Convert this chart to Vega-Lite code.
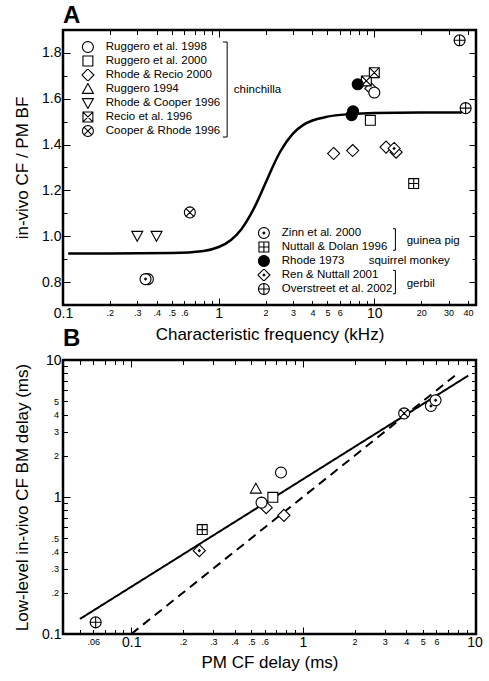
{
  "$schema": "https://vega.github.io/schema/vega-lite/v6.json",
  "padding": {"left": 12, "top": 2, "right": 5, "bottom": 0},
  "spacing": -19,
  "config": {
    "font": "Liberation Sans",
    "view": {"stroke": "black", "strokeWidth": 2.5},
    "axis": {"domain": false, "grid": false, "tickColor": "black", "tickWidth": 1, "labelColor": "black", "titleColor": "black", "titleFontWeight": "normal", "titleFontSize": 17, "labelFlush": false, "labelOverlap": false, "labelBound": false},
    "legend": {"labelFontSize": 11.5, "labelColor": "black", "symbolSize": 121, "symbolStrokeWidth": 1.1, "symbolStrokeColor": "black", "symbolFillColor": "white", "rowPadding": 2, "clipHeight": 12, "padding": 0},
    "title": {"fontSize": 24, "fontWeight": "bold", "anchor": "start", "frame": "group", "color": "black", "offset": 2}
  },
  "datasets": {
    "points": [
      {"panel": "A", "species": "chinchilla", "study": "Rhode & Recio 2000", "x": 9.5, "y": 1.645},
      {"panel": "A", "species": "chinchilla", "study": "Ruggero et al. 1998", "x": 10.0, "y": 1.627},
      {"panel": "A", "species": "chinchilla", "study": "Rhode & Recio 2000", "x": 5.48, "y": 1.361},
      {"panel": "A", "species": "chinchilla", "study": "Rhode & Recio 2000", "x": 7.26, "y": 1.374},
      {"panel": "A", "species": "chinchilla", "study": "Rhode & Recio 2000", "x": 11.9, "y": 1.389},
      {"panel": "A", "species": "chinchilla", "study": "Rhode & Recio 2000", "x": 13.8, "y": 1.367},
      {"panel": "A", "species": "chinchilla", "study": "Recio et al. 1996", "x": 8.89, "y": 1.678},
      {"panel": "A", "species": "chinchilla", "study": "Recio et al. 1996", "x": 10.0, "y": 1.714},
      {"panel": "A", "species": "chinchilla", "study": "Ruggero et al. 2000", "x": 9.43, "y": 1.506},
      {"panel": "A", "species": "chinchilla", "study": "Rhode & Cooper 1996", "x": 0.30, "y": 1.002},
      {"panel": "A", "species": "chinchilla", "study": "Rhode & Cooper 1996", "x": 0.399, "y": 1.002},
      {"panel": "A", "species": "chinchilla", "study": "Cooper & Rhode 1996", "x": 0.653, "y": 1.104},
      {"panel": "A", "species": "guinea pig", "study": "Zinn et al. 2000", "x": 0.351, "y": 0.813},
      {"panel": "A", "species": "guinea pig", "study": "Zinn et al. 2000", "x": 0.339, "y": 0.813},
      {"panel": "A", "species": "guinea pig", "study": "Nuttall & Dolan 1996", "x": 17.9, "y": 1.230},
      {"panel": "A", "species": "squirrel monkey", "study": "Rhode 1973", "x": 7.82, "y": 1.663},
      {"panel": "A", "species": "squirrel monkey", "study": "Rhode 1973", "x": 7.3, "y": 1.545},
      {"panel": "A", "species": "squirrel monkey", "study": "Rhode 1973", "x": 7.15, "y": 1.528},
      {"panel": "A", "species": "gerbil", "study": "Ren & Nuttall 2001", "x": 13.4, "y": 1.383},
      {"panel": "A", "species": "gerbil", "study": "Overstreet et al. 2002", "x": 35.3, "y": 1.855},
      {"panel": "A", "species": "gerbil", "study": "Overstreet et al. 2002", "x": 38.6, "y": 1.559},
      {"panel": "B", "species": "gerbil", "study": "Overstreet et al. 2002", "x": 0.062, "y": 0.1217},
      {"panel": "B", "species": "guinea pig", "study": "Nuttall & Dolan 1996", "x": 0.259, "y": 0.578},
      {"panel": "B", "species": "gerbil", "study": "Ren & Nuttall 2001", "x": 0.249, "y": 0.406},
      {"panel": "B", "species": "chinchilla", "study": "Ruggero 1994", "x": 0.532, "y": 1.15},
      {"panel": "B", "species": "chinchilla", "study": "Rhode & Recio 2000", "x": 0.611, "y": 0.836},
      {"panel": "B", "species": "chinchilla", "study": "Ruggero et al. 1998", "x": 0.574, "y": 0.91},
      {"panel": "B", "species": "chinchilla", "study": "Ruggero et al. 1998", "x": 0.745, "y": 1.51},
      {"panel": "B", "species": "chinchilla", "study": "Rhode & Recio 2000", "x": 0.775, "y": 0.735},
      {"panel": "B", "species": "chinchilla", "study": "Ruggero et al. 2000", "x": 0.668, "y": 0.995},
      {"panel": "B", "species": "chinchilla", "study": "Cooper & Rhode 1996", "x": 3.89, "y": 4.08},
      {"panel": "B", "species": "guinea pig", "study": "Zinn et al. 2000", "x": 5.57, "y": 4.62},
      {"panel": "B", "species": "guinea pig", "study": "Zinn et al. 2000", "x": 5.93, "y": 5.08}
    ],
    "curveA": [
      {"x": 0.108, "y": 0.925},
      {"x": 0.2, "y": 0.925},
      {"x": 0.5, "y": 0.927},
      {"x": 0.8, "y": 0.936},
      {"x": 1.0, "y": 0.953},
      {"x": 1.2, "y": 0.984},
      {"x": 1.4, "y": 1.031},
      {"x": 1.6, "y": 1.093},
      {"x": 1.8, "y": 1.162},
      {"x": 2.0, "y": 1.232},
      {"x": 2.2, "y": 1.296},
      {"x": 2.5, "y": 1.372},
      {"x": 3.0, "y": 1.448},
      {"x": 3.5, "y": 1.486},
      {"x": 4.0, "y": 1.505},
      {"x": 5.0, "y": 1.522},
      {"x": 7.0, "y": 1.533},
      {"x": 10.0, "y": 1.538},
      {"x": 20.0, "y": 1.540},
      {"x": 36.5, "y": 1.540}
    ],
    "linesB": [
      {"line": "fit", "x": 0.0502, "y": 0.1287},
      {"line": "fit", "x": 9.19, "y": 7.69},
      {"line": "identity", "x": 0.1, "y": 0.1},
      {"line": "identity", "x": 8.1, "y": 8.1}
    ],
    "speciesA": [
      {"label": "chinchilla", "x": 1.252, "y": 1.637},
      {"label": "guinea pig", "x": 16.14, "y": 0.978},
      {"label": "squirrel monkey", "x": 9.2, "y": 0.891},
      {"label": "gerbil", "x": 16.14, "y": 0.793}
    ],
    "bracketsA": [
      {"bracket": "chinchilla", "order": 1, "x": 1.064, "y": 1.8476},
      {"bracket": "chinchilla", "order": 2, "x": 1.134, "y": 1.8476},
      {"bracket": "chinchilla", "order": 3, "x": 1.134, "y": 1.433},
      {"bracket": "chinchilla", "order": 4, "x": 1.064, "y": 1.433},
      {"bracket": "guinea pig", "order": 1, "x": 13.18, "y": 1.033},
      {"bracket": "guinea pig", "order": 2, "x": 13.66, "y": 1.033},
      {"bracket": "guinea pig", "order": 3, "x": 13.66, "y": 0.939},
      {"bracket": "guinea pig", "order": 4, "x": 13.18, "y": 0.939},
      {"bracket": "gerbil", "order": 1, "x": 13.18, "y": 0.851},
      {"bracket": "gerbil", "order": 2, "x": 13.66, "y": 0.851},
      {"bracket": "gerbil", "order": 3, "x": 13.66, "y": 0.749},
      {"bracket": "gerbil", "order": 4, "x": 13.18, "y": 0.749}
    ]
  },
  "resolve": {"scale": {"shape": "independent", "fill": "independent", "strokeDash": "independent"}, "legend": {"shape": "independent", "fill": "independent"}},
  "vconcat": [
    {
      "title": {"text": "A"},
      "width": 413,
      "height": 275,
      "resolve": {"scale": {"shape": "independent", "fill": "independent"}, "axis": {"x": "independent", "y": "independent"}, "legend": {"shape": "independent", "fill": "independent"}},
      "layer": [
        {
          "data": {"name": "curveA"},
          "mark": {"type": "line", "color": "black", "strokeWidth": 2.5, "interpolate": "monotone"},
          "encoding": {
            "x": {"field": "x", "type": "quantitative", "scale": {"type": "log", "domain": [0.1, 45], "nice": false},
              "axis": {"orient": "bottom", "title": "Characteristic frequency (kHz)", "titlePadding": 6,
                "values": [0.1, 0.2, 0.3, 0.4, 0.5, 0.6, 0.7, 0.8, 0.9, 1, 2, 3, 4, 5, 6, 7, 8, 9, 10, 20, 30, 40],
                "labelExpr": "datum.value == 0.1 ? '0.1' : datum.value < 0.65 ? replace(format(datum.value, '.1f'), '0.', '.') : datum.value < 1 ? '' : (datum.value < 6.5 || datum.value == 10 || datum.value > 15) ? format(datum.value, 'd') : ''",
                "labelFontSize": {"condition": {"test": "datum.value == 0.1 || datum.value == 1 || datum.value == 10", "value": 14}, "value": 9},
                "tickSize": {"condition": {"test": "datum.value == 0.1 || datum.value == 1 || datum.value == 10", "value": -7}, "value": -4.5},
                "labelPadding": 8}},
            "y": {"field": "y", "type": "quantitative", "scale": {"domain": [0.7, 1.9], "nice": false, "zero": false},
              "axis": {"orient": "left", "title": "in-vivo CF / PM BF", "titlePadding": 10,
                "values": [0.8, 0.9, 1.0, 1.1, 1.2, 1.3, 1.4, 1.5, 1.6, 1.7, 1.8],
                "labelExpr": "indexof(['0.8','1.0','1.2','1.4','1.6','1.8'], format(datum.value, '.1f')) >= 0 ? format(datum.value, '.1f') : ''",
                "labelFontSize": 14,
                "tickSize": {"condition": {"test": "indexof(['0.8','1.0','1.2','1.4','1.6','1.8'], format(datum.value, '.1f')) >= 0", "value": -7}, "value": -4},
                "labelPadding": 9}}
          }
        },
        {
          "data": {"name": "curveA"},
          "mark": {"type": "line", "opacity": 0},
          "encoding": {
            "x": {"field": "x", "type": "quantitative", "scale": {"type": "log", "domain": [0.1, 45], "nice": false},
              "axis": {"orient": "top", "title": null, "labels": false,
                "values": [0.1, 0.2, 0.3, 0.4, 0.5, 0.6, 0.7, 0.8, 0.9, 1, 2, 3, 4, 5, 6, 7, 8, 9, 10, 20, 30, 40],
                "tickSize": {"condition": {"test": "datum.value == 0.1 || datum.value == 1 || datum.value == 10", "value": -7}, "value": -4.5}}},
            "y": {"field": "y", "type": "quantitative", "scale": {"domain": [0.7, 1.9], "nice": false, "zero": false},
              "axis": {"orient": "right", "title": null, "labels": false,
                "values": [0.8, 0.9, 1.0, 1.1, 1.2, 1.3, 1.4, 1.5, 1.6, 1.7, 1.8],
                "tickSize": {"condition": {"test": "indexof(['0.8','1.0','1.2','1.4','1.6','1.8'], format(datum.value, '.1f')) >= 0", "value": -7}, "value": -4}}}
          }
        },
        {
          "data": {"name": "bracketsA"},
          "mark": {"type": "line", "color": "black", "strokeWidth": 1},
          "encoding": {
            "x": {"field": "x", "type": "quantitative", "scale": {"type": "log", "domain": [0.1, 45], "nice": false}, "axis": null},
            "y": {"field": "y", "type": "quantitative", "scale": {"domain": [0.7, 1.9], "nice": false, "zero": false}, "axis": null},
            "detail": {"field": "bracket"},
            "order": {"field": "order", "type": "quantitative"}
          }
        },
        {
          "data": {"name": "speciesA"},
          "mark": {"type": "text", "align": "left", "baseline": "middle", "fontSize": 11.5, "color": "black"},
          "encoding": {
            "x": {"field": "x", "type": "quantitative", "scale": {"type": "log", "domain": [0.1, 45], "nice": false}, "axis": null},
            "y": {"field": "y", "type": "quantitative", "scale": {"domain": [0.7, 1.9], "nice": false, "zero": false}, "axis": null},
            "text": {"field": "label"}
          }
        },
        {
          "data": {"name": "points"},
          "transform": [{"filter": "datum.panel === 'A' && datum.species === 'chinchilla'"}],
          "mark": {"type": "point", "filled": false, "color": "black", "strokeWidth": 1.1, "size": 121, "opacity": 1},
          "encoding": {
            "x": {"field": "x", "type": "quantitative", "scale": {"type": "log", "domain": [0.1, 45], "nice": false}, "axis": null},
            "y": {"field": "y", "type": "quantitative", "scale": {"domain": [0.7, 1.9], "nice": false, "zero": false}, "axis": null},
            "shape": {"field": "study", "type": "nominal",
              "scale": {"domain": ["Ruggero et al. 1998", "Ruggero et al. 2000", "Rhode & Recio 2000", "Ruggero 1994", "Rhode & Cooper 1996", "Recio et al. 1996", "Cooper & Rhode 1996"],
                "range": [
                  "M1,0L0.924,0.383L0.707,0.707L0.383,0.924L0,1L-0.383,0.924L-0.707,0.707L-0.924,0.383L-1,0L-0.924,-0.383L-0.707,-0.707L-0.383,-0.924L0,-1L0.383,-0.924L0.707,-0.707L0.924,-0.383Z",
                  "M-0.9,-0.9H0.9V0.9H-0.9Z",
                  "M0,-1.1L1.1,0L0,1.1L-1.1,0Z",
                  "M0,-1L1,0.8L-1,0.8Z",
                  "M0,1L1,-0.8L-1,-0.8Z",
                  "M-0.9,-0.9H0.9V0.9H-0.9ZM-0.9,-0.9L0.9,0.9M-0.9,0.9L0.9,-0.9",
                  "M1,0L0.924,0.383L0.707,0.707L0.383,0.924L0,1L-0.383,0.924L-0.707,0.707L-0.924,0.383L-1,0L-0.924,-0.383L-0.707,-0.707L-0.383,-0.924L0,-1L0.383,-0.924L0.707,-0.707L0.924,-0.383ZM-0.707,-0.707L0.707,0.707M-0.707,0.707L0.707,-0.707"
                ]},
              "legend": {"orient": "none", "legendX": 18.4, "legendY": 11, "title": null, "labelOffset": 11.4, "symbolStrokeColor": "black", "symbolStrokeWidth": 1.1}},
            "fill": {"field": "study", "type": "nominal",
              "scale": {"domain": ["Ruggero et al. 1998", "Ruggero et al. 2000", "Rhode & Recio 2000", "Ruggero 1994", "Rhode & Cooper 1996", "Recio et al. 1996", "Cooper & Rhode 1996"],
                "range": ["white", "white", "white", "white", "white", "white", "white"]},
              "legend": {"orient": "none", "legendX": 18.4, "legendY": 11, "title": null, "labelOffset": 11.4, "symbolStrokeColor": "black", "symbolStrokeWidth": 1.1}}
          }
        },
        {
          "data": {"name": "points"},
          "transform": [{"filter": "datum.panel === 'A' && datum.species !== 'chinchilla'"}],
          "mark": {"type": "point", "filled": false, "color": "black", "strokeWidth": 1.1, "size": 121, "opacity": 1},
          "encoding": {
            "x": {"field": "x", "type": "quantitative", "scale": {"type": "log", "domain": [0.1, 45], "nice": false}, "axis": null},
            "y": {"field": "y", "type": "quantitative", "scale": {"domain": [0.7, 1.9], "nice": false, "zero": false}, "axis": null},
            "shape": {"field": "study", "type": "nominal",
              "scale": {"domain": ["Zinn et al. 2000", "Nuttall & Dolan 1996", "Rhode 1973", "Ren & Nuttall 2001", "Overstreet et al. 2002"],
                "range": [
                  "M1,0L0.924,0.383L0.707,0.707L0.383,0.924L0,1L-0.383,0.924L-0.707,0.707L-0.924,0.383L-1,0L-0.924,-0.383L-0.707,-0.707L-0.383,-0.924L0,-1L0.383,-0.924L0.707,-0.707L0.924,-0.383ZM0.18,0L0,0.18L-0.18,0L0,-0.18Z",
                  "M-0.9,-0.9H0.9V0.9H-0.9ZM0,-0.9V0.9M-0.9,0H0.9",
                  "M1,0L0.924,0.383L0.707,0.707L0.383,0.924L0,1L-0.383,0.924L-0.707,0.707L-0.924,0.383L-1,0L-0.924,-0.383L-0.707,-0.707L-0.383,-0.924L0,-1L0.383,-0.924L0.707,-0.707L0.924,-0.383Z",
                  "M0,-1.1L1.1,0L0,1.1L-1.1,0ZM0.18,0L0,0.18L-0.18,0L0,-0.18Z",
                  "M1,0L0.924,0.383L0.707,0.707L0.383,0.924L0,1L-0.383,0.924L-0.707,0.707L-0.924,0.383L-1,0L-0.924,-0.383L-0.707,-0.707L-0.383,-0.924L0,-1L0.383,-0.924L0.707,-0.707L0.924,-0.383ZM0,-1V1M-1,0H1"
                ]},
              "legend": {"orient": "none", "legendX": 194.4, "legendY": 197, "title": null, "labelOffset": 11.4, "symbolStrokeColor": "black", "symbolStrokeWidth": 1.1}},
            "fill": {"field": "study", "type": "nominal",
              "scale": {"domain": ["Zinn et al. 2000", "Nuttall & Dolan 1996", "Rhode 1973", "Ren & Nuttall 2001", "Overstreet et al. 2002"],
                "range": ["white", "white", "black", "white", "white"]},
              "legend": {"orient": "none", "legendX": 194.4, "legendY": 197, "title": null, "labelOffset": 11.4, "symbolStrokeColor": "black", "symbolStrokeWidth": 1.1}}
          }
        }
      ]
    },
    {
      "title": {"text": "B"},
      "width": 413,
      "height": 274,
      "resolve": {"axis": {"x": "independent", "y": "independent"}},
      "layer": [
        {
          "data": {"name": "linesB"},
          "mark": {"type": "line", "color": "black", "strokeWidth": 2},
          "encoding": {
            "x": {"field": "x", "type": "quantitative", "scale": {"type": "log", "domain": [0.04, 10.2], "nice": false},
              "axis": {"orient": "bottom", "title": "PM CF delay (ms)", "titlePadding": 5,
                "values": [0.05, 0.06, 0.07, 0.08, 0.09, 0.1, 0.2, 0.3, 0.4, 0.5, 0.6, 0.7, 0.8, 0.9, 1, 2, 3, 4, 5, 6, 7, 8, 9, 10],
                "labelExpr": "datum.value == 0.06 ? '.06' : datum.value == 0.1 ? '0.1' : datum.value < 0.1 ? '' : datum.value < 0.65 ? replace(format(datum.value, '.1f'), '0.', '.') : datum.value < 1 ? '' : (datum.value < 6.5 || datum.value == 10) ? format(datum.value, 'd') : ''",
                "labelFontSize": {"condition": {"test": "datum.value == 0.1 || datum.value == 1 || datum.value == 10", "value": 14}, "value": 9},
                "tickSize": {"condition": {"test": "datum.value == 0.1 || datum.value == 1 || datum.value == 10", "value": -7}, "value": -4.5},
                "labelPadding": 8}},
            "y": {"field": "y", "type": "quantitative", "scale": {"type": "log", "domain": [0.1, 10], "nice": false},
              "axis": {"orient": "left", "title": "Low-level in-vivo CF BM delay (ms)", "titlePadding": 10,
                "values": [0.1, 0.2, 0.3, 0.4, 0.5, 0.6, 0.7, 0.8, 0.9, 1, 2, 3, 4, 5, 6, 7, 8, 9, 10],
                "labelExpr": "datum.value == 0.1 ? '0.1' : datum.value < 0.55 ? replace(format(datum.value, '.1f'), '0.', '.') : datum.value < 1 ? '' : (datum.value < 5.5 || datum.value == 10) ? format(datum.value, 'd') : ''",
                "labelFontSize": {"condition": {"test": "datum.value == 0.1 || datum.value == 1 || datum.value == 10", "value": 14}, "value": 9},
                "tickSize": {"condition": {"test": "datum.value == 0.1 || datum.value == 1 || datum.value == 10", "value": -7}, "value": -4.5},
                "labelPadding": 9}},
            "strokeDash": {"field": "line", "type": "nominal", "scale": {"domain": ["fit", "identity"], "range": [[1, 0], [9, 6]]}, "legend": null}
          }
        },
        {
          "data": {"name": "linesB"},
          "mark": {"type": "line", "opacity": 0},
          "encoding": {
            "x": {"field": "x", "type": "quantitative", "scale": {"type": "log", "domain": [0.04, 10.2], "nice": false},
              "axis": {"orient": "top", "title": null, "labels": false,
                "values": [0.05, 0.06, 0.07, 0.08, 0.09, 0.1, 0.2, 0.3, 0.4, 0.5, 0.6, 0.7, 0.8, 0.9, 1, 2, 3, 4, 5, 6, 7, 8, 9, 10],
                "tickSize": {"condition": {"test": "datum.value == 0.1 || datum.value == 1 || datum.value == 10", "value": -7}, "value": -4.5}}},
            "y": {"field": "y", "type": "quantitative", "scale": {"type": "log", "domain": [0.1, 10], "nice": false},
              "axis": {"orient": "right", "title": null, "labels": false,
                "values": [0.1, 0.2, 0.3, 0.4, 0.5, 0.6, 0.7, 0.8, 0.9, 1, 2, 3, 4, 5, 6, 7, 8, 9, 10],
                "tickSize": {"condition": {"test": "datum.value == 0.1 || datum.value == 1 || datum.value == 10", "value": -7}, "value": -4.5}}},
            "detail": {"field": "line"}
          }
        },
        {
          "data": {"name": "points"},
          "transform": [{"filter": "datum.panel === 'B'"}],
          "mark": {"type": "point", "filled": false, "color": "black", "strokeWidth": 1.1, "size": 121, "opacity": 1},
          "encoding": {
            "x": {"field": "x", "type": "quantitative", "scale": {"type": "log", "domain": [0.04, 10.2], "nice": false}, "axis": null},
            "y": {"field": "y", "type": "quantitative", "scale": {"type": "log", "domain": [0.1, 10], "nice": false}, "axis": null},
            "shape": {"field": "study", "type": "nominal",
              "scale": {"domain": ["Ruggero et al. 1998", "Ruggero et al. 2000", "Rhode & Recio 2000", "Ruggero 1994", "Rhode & Cooper 1996", "Recio et al. 1996", "Cooper & Rhode 1996", "Zinn et al. 2000", "Nuttall & Dolan 1996", "Rhode 1973", "Ren & Nuttall 2001", "Overstreet et al. 2002"],
                "range": [
                  "M1,0L0.924,0.383L0.707,0.707L0.383,0.924L0,1L-0.383,0.924L-0.707,0.707L-0.924,0.383L-1,0L-0.924,-0.383L-0.707,-0.707L-0.383,-0.924L0,-1L0.383,-0.924L0.707,-0.707L0.924,-0.383Z",
                  "M-0.9,-0.9H0.9V0.9H-0.9Z",
                  "M0,-1.1L1.1,0L0,1.1L-1.1,0Z",
                  "M0,-1L1,0.8L-1,0.8Z",
                  "M0,1L1,-0.8L-1,-0.8Z",
                  "M-0.9,-0.9H0.9V0.9H-0.9ZM-0.9,-0.9L0.9,0.9M-0.9,0.9L0.9,-0.9",
                  "M1,0L0.924,0.383L0.707,0.707L0.383,0.924L0,1L-0.383,0.924L-0.707,0.707L-0.924,0.383L-1,0L-0.924,-0.383L-0.707,-0.707L-0.383,-0.924L0,-1L0.383,-0.924L0.707,-0.707L0.924,-0.383ZM-0.707,-0.707L0.707,0.707M-0.707,0.707L0.707,-0.707",
                  "M1,0L0.924,0.383L0.707,0.707L0.383,0.924L0,1L-0.383,0.924L-0.707,0.707L-0.924,0.383L-1,0L-0.924,-0.383L-0.707,-0.707L-0.383,-0.924L0,-1L0.383,-0.924L0.707,-0.707L0.924,-0.383ZM0.18,0L0,0.18L-0.18,0L0,-0.18Z",
                  "M-0.9,-0.9H0.9V0.9H-0.9ZM0,-0.9V0.9M-0.9,0H0.9",
                  "M1,0L0.924,0.383L0.707,0.707L0.383,0.924L0,1L-0.383,0.924L-0.707,0.707L-0.924,0.383L-1,0L-0.924,-0.383L-0.707,-0.707L-0.383,-0.924L0,-1L0.383,-0.924L0.707,-0.707L0.924,-0.383Z",
                  "M0,-1.1L1.1,0L0,1.1L-1.1,0ZM0.18,0L0,0.18L-0.18,0L0,-0.18Z",
                  "M1,0L0.924,0.383L0.707,0.707L0.383,0.924L0,1L-0.383,0.924L-0.707,0.707L-0.924,0.383L-1,0L-0.924,-0.383L-0.707,-0.707L-0.383,-0.924L0,-1L0.383,-0.924L0.707,-0.707L0.924,-0.383ZM0,-1V1M-1,0H1"
                ]},
              "legend": null},
            "fill": {"field": "study", "type": "nominal",
              "scale": {"domain": ["Ruggero et al. 1998", "Ruggero et al. 2000", "Rhode & Recio 2000", "Ruggero 1994", "Rhode & Cooper 1996", "Recio et al. 1996", "Cooper & Rhode 1996", "Zinn et al. 2000", "Nuttall & Dolan 1996", "Rhode 1973", "Ren & Nuttall 2001", "Overstreet et al. 2002"],
                "range": ["white", "white", "white", "white", "white", "white", "white", "white", "white", "black", "white", "white"]},
              "legend": null}
          }
        }
      ]
    }
  ]
}
